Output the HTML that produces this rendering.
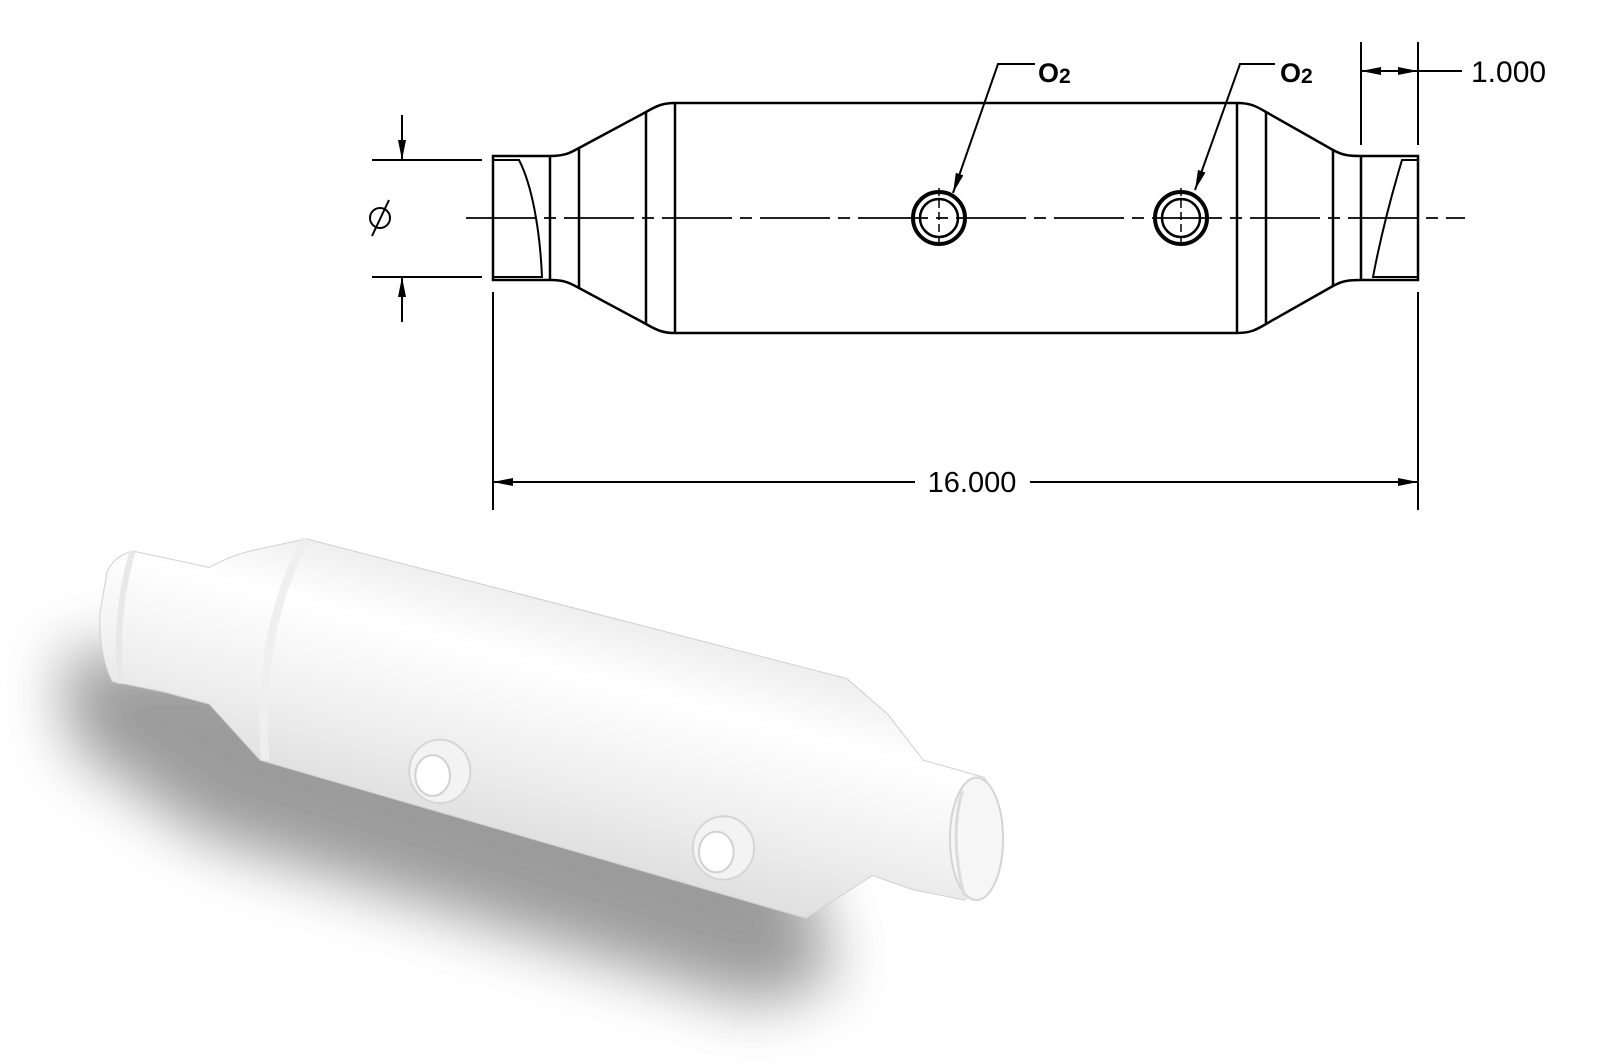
<!DOCTYPE html>
<html><head><meta charset="utf-8"><style>
html,body{margin:0;padding:0;background:#fff;}
svg{display:block;}
text{font-family:"Liberation Sans",sans-serif;fill:#000;}
</style></head><body>
<svg width="1600" height="1064" viewBox="0 0 1600 1064" xmlns="http://www.w3.org/2000/svg">
<defs>
<filter id="blur" x="-30%" y="-30%" width="160%" height="160%"><feGaussianBlur stdDeviation="30"/></filter>
<linearGradient id="body" gradientUnits="userSpaceOnUse" x1="590" y1="570" x2="510" y2="870">
<stop offset="0" stop-color="#e6e6e6"/><stop offset="0.3" stop-color="#ffffff"/><stop offset="0.55" stop-color="#f3f3f3"/><stop offset="0.85" stop-color="#e0e0e0"/><stop offset="1" stop-color="#cfcfcf"/>
</linearGradient>
<marker id="ah" viewBox="0 0 20 8" refX="20" refY="4" markerWidth="20" markerHeight="8" markerUnits="userSpaceOnUse" orient="auto"><path d="M0,0 L20,4 L0,8 z" fill="#000"/></marker>
</defs>

<!-- 3D render -->
<g transform="scale(1.0204)">
<path d="M60,640 L200,640 L300,650 L780,830 L820,960 L740,985 L200,820 L70,730 z" fill="#8a8a8a" filter="url(#blur)" opacity="0.85"/>
<path d="M105,560 Q112,545 130,540 L205,556 Q225,545 245,540 L300,528 L830,665 L870,700 L905,745 L965,762 L978,790 L972,860 L945,882 L895,872 L855,858 L790,900 L255,745 L205,690 L160,678 L110,668 Q96,640 98,600 z" fill="url(#body)" stroke="#d0d0d0" stroke-width="1"/>
<path d="M130,540 Q112,600 118,670" fill="none" stroke="#e8e8e8" stroke-width="6"/>
<path d="M300,528 Q250,620 260,745" fill="none" stroke="#efefef" stroke-width="8"/>
<ellipse cx="957" cy="822" rx="26" ry="60" fill="#f6f6f6" stroke="#d5d5d5" stroke-width="2"/>
<path d="M943,775 Q930,820 945,878" fill="none" stroke="#dcdcdc" stroke-width="3"/>
<ellipse cx="431" cy="756" rx="30" ry="31" fill="#f3f3f3" stroke="#d6d6d6" stroke-width="2"/>
<ellipse cx="424" cy="760" rx="17" ry="20" fill="#fff" stroke="#d2d2d2" stroke-width="2"/>
<ellipse cx="709" cy="831" rx="30" ry="31" fill="#f3f3f3" stroke="#d6d6d6" stroke-width="2"/>
<ellipse cx="702" cy="835" rx="17" ry="20" fill="#fff" stroke="#d2d2d2" stroke-width="2"/>
</g>

<!-- Technical drawing -->
<g fill="none" stroke="#000" stroke-width="2.5">
<line x1="466" y1="218" x2="1465" y2="218" stroke-width="1.8" stroke-dasharray="70 8 12 8"/>
<path d="M493,156 L550,156 C565,156 570,153 579,148 L646,112 C658,105 664,103 675,103 L1237,103 C1250,103 1256,106 1266,112 L1333,150 C1342,155 1348,156 1361,156 L1418,156 L1418,280 L1361,280 C1348,280 1342,281 1333,286 L1266,324 C1256,330 1250,333 1237,333 L675,333 C664,333 658,331 646,324 L579,288 C570,283 565,280 550,280 L493,280 z"/>
<line x1="550" y1="156" x2="550" y2="280"/>
<line x1="579" y1="148" x2="579" y2="288"/>
<line x1="646" y1="112" x2="646" y2="324"/>
<line x1="675" y1="103" x2="675" y2="333"/>
<line x1="1237" y1="103" x2="1237" y2="333"/>
<line x1="1266" y1="112" x2="1266" y2="324"/>
<line x1="1333" y1="150" x2="1333" y2="286"/>
<line x1="1361" y1="156" x2="1361" y2="280"/>
<path d="M493,160 L519,160 C532,185 540,230 542,277 L493,277" stroke-width="2"/>
<path d="M1418,160 L1402,160 C1390,200 1380,240 1373,277 L1418,277" stroke-width="2"/>
<circle cx="939" cy="218" r="26" stroke-width="4"/>
<circle cx="939" cy="218" r="19" stroke-width="2.5"/>
<line x1="939" y1="188" x2="939" y2="248" stroke-width="1.5" stroke-dasharray="8 4"/>
<circle cx="1181" cy="218" r="26" stroke-width="4"/>
<circle cx="1181" cy="218" r="19" stroke-width="2.5"/>
<line x1="1181" y1="188" x2="1181" y2="248" stroke-width="1.5" stroke-dasharray="8 4"/>
<polyline points="1035,64 998,64 953,193" stroke-width="2" marker-end="url(#ah)"/>
<polyline points="1275,64 1240,64 1195,190" stroke-width="2" marker-end="url(#ah)"/>
<line x1="372" y1="160" x2="482" y2="160" stroke-width="2"/>
<line x1="372" y1="277" x2="482" y2="277" stroke-width="2"/>
<line x1="402" y1="115" x2="402" y2="160" stroke-width="2" marker-end="url(#ah)"/>
<line x1="402" y1="322" x2="402" y2="277" stroke-width="2" marker-end="url(#ah)"/>
<line x1="493" y1="292" x2="493" y2="510" stroke-width="2"/>
<line x1="1418" y1="292" x2="1418" y2="510" stroke-width="2"/>
<line x1="915" y1="482" x2="493" y2="482" stroke-width="2" marker-end="url(#ah)"/>
<line x1="1030" y1="482" x2="1418" y2="482" stroke-width="2" marker-end="url(#ah)"/>
<line x1="1361" y1="42" x2="1361" y2="145" stroke-width="2"/>
<line x1="1418" y1="42" x2="1418" y2="145" stroke-width="2"/>
<line x1="1390" y1="71" x2="1361" y2="71" stroke-width="2" marker-end="url(#ah)"/>
<line x1="1390" y1="71" x2="1418" y2="71" stroke-width="2" marker-end="url(#ah)"/>
<line x1="1418" y1="71" x2="1462" y2="71" stroke-width="2"/>
<!-- diameter symbol -->
<circle cx="380" cy="218" r="10" stroke-width="2"/>
<line x1="372" y1="236" x2="389" y2="200" stroke-width="2"/>
</g>
<text x="1038" y="82" font-size="27" font-weight="bold">O<tspan font-size="21" dy="1">2</tspan></text>
<text x="1280" y="82" font-size="27" font-weight="bold">O<tspan font-size="21" dy="1">2</tspan></text>
<text x="972" y="492" font-size="29" text-anchor="middle">16.000</text>
<text x="1471" y="82" font-size="30">1.000</text>
</svg>
</body></html>
